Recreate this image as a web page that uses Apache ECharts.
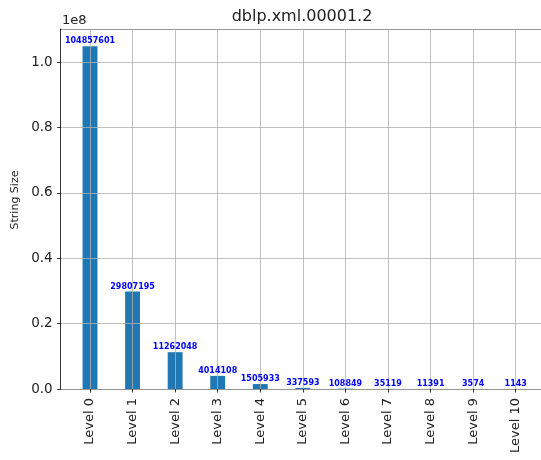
<!DOCTYPE html>
<html><head><meta charset="utf-8">
<script src="https://cdn.jsdelivr.net/npm/echarts@6/dist/echarts.min.js"></script>
<style>html,body{margin:0;padding:0;background:#fff}#c{width:541px;height:460px}</style>
</head><body><div id="c"></div>
<script>
const title = 'dblp.xml.00001.2';
const categories = ['Level 0','Level 1','Level 2','Level 3','Level 4','Level 5','Level 6','Level 7','Level 8','Level 9','Level 10'];
const values = [104857601, 29807195, 11262048, 4014108, 1505933, 337593, 108849, 35119, 11391, 3574, 1143];
const yTicks = [0, 0.2, 0.4, 0.6, 0.8, 1.0];
const yMax = 110100481;
const F = 'DejaVu Sans';

const chart = echarts.init(document.getElementById('c'), null, {renderer:'canvas'});
const G0 = {left:60.7, top:29, width:484.7, height:360};
const G1 = {left:90, top:29, width:425.7, height:360};
chart.setOption({
  animation:false,
  title:[
    {text:title, left:302, top:9, padding:0, textAlign:'center', textStyle:{fontFamily:F, fontSize:16, fontWeight:'normal', color:'#222'}},
    {text:'1e8', left:62, top:14, padding:0, textStyle:{fontFamily:F, fontSize:13, fontWeight:'normal', color:'#222'}}
  ],
  grid:[Object.assign({containLabel:false}, G0), Object.assign({containLabel:false}, G1)],
  xAxis:[
    {type:'value', gridIndex:0, min:-0.6925, max:10.6925, position:'bottom',
     axisLine:{show:true, onZero:false, lineStyle:{color:'#000', width:0.8}}, axisTick:{show:false}, axisLabel:{show:false}, splitLine:{show:false}},
    {type:'value', gridIndex:0, min:-0.6925, max:10.6925, position:'top',
     axisLine:{show:true, onZero:false, lineStyle:{color:'#000', width:0.8}}, axisTick:{show:false}, axisLabel:{show:false}, splitLine:{show:false}},
    {type:'category', gridIndex:1, data:categories, boundaryGap:false, z:3,
     axisLine:{show:false}, axisTick:{show:true, length:3.5, lineStyle:{color:'#000', width:0.8}},
     axisLabel:{rotate:90, fontFamily:F, fontSize:13, color:'#222', margin:9, interval:0},
     splitLine:{show:true, interval:0, lineStyle:{color:'#b0b0b0', width:0.8}}}
  ],
  yAxis:[
    {type:'value', gridIndex:0, min:0, max:yMax, interval:20000000, z:3,
     name:'String Size', nameLocation:'middle', nameGap:38,
     nameTextStyle:{fontFamily:F, fontSize:11, color:'#222', padding:[0,0,0,18]},
     axisLine:{show:true, onZero:false, lineStyle:{color:'#000', width:0.8}}, axisTick:{show:true, length:3.5, lineStyle:{color:'#000', width:0.8}},
     axisLabel:{fontFamily:F, fontSize:13.5, color:'#222', margin:8, showMaxLabel:false,
       formatter:function(v){ const t=v/1e8; for (const k of yTicks){ if (Math.abs(k-t)<1e-9) return k.toFixed(1);} return ''; }},
     splitLine:{show:true, lineStyle:{color:'#b0b0b0', width:0.8}}},
    {type:'value', gridIndex:1, min:0, max:yMax, show:false}
  ],
  series:[
    {type:'bar', xAxisIndex:2, yAxisIndex:1, data:values, barWidth:'35%', clip:false, z:2,
     itemStyle:{color:'#1f77b4'}},
    {type:'bar', xAxisIndex:2, yAxisIndex:1, data:values, barWidth:'35%', barGap:'-100%', clip:false, z:5,
     itemStyle:{color:'rgba(0,0,0,0)'},
     label:{show:true, position:'top', distance:1, fontFamily:F, fontSize:8, fontWeight:'bold', color:'#0000ff'}}
  ]
});
</script></body></html>
